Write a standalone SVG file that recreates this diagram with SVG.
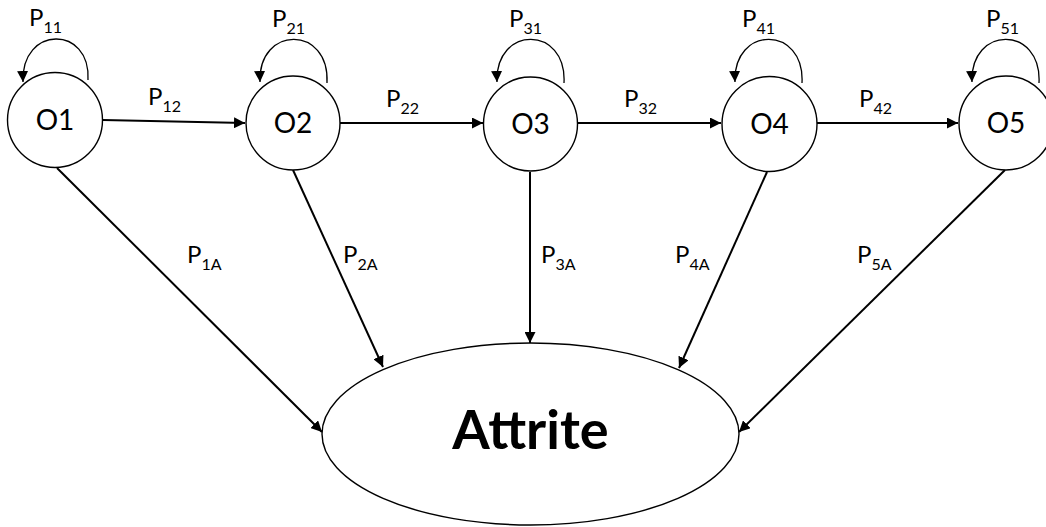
<svg xmlns="http://www.w3.org/2000/svg" width="1046" height="527" viewBox="0 0 1046 527">
<style>
.node{fill:#fff;stroke:#000;stroke-width:1.4}
.lbl{font-family:Lato,"Open Sans",sans-serif;font-size:28px;fill:#000;text-anchor:middle}
.p{font-family:Lato,"Open Sans",sans-serif;font-size:24px;fill:#000}
.sub{font-size:16px}
.edge{fill:none;stroke:#000;stroke-width:2}
.loop{fill:none;stroke:#000;stroke-width:1.3}
.big{font-family:Lato,"Open Sans",sans-serif;font-size:54px;font-weight:bold;fill:#000;text-anchor:middle}
</style>
<defs>
<marker id="ah" viewBox="0 0 10 10" refX="10" refY="5" markerWidth="5.5" markerHeight="5.5" orient="auto" markerUnits="strokeWidth"><path d="M0,0 L10,5 L0,10 z" fill="#000"/></marker>
<marker id="ahs" viewBox="0 0 10 10" refX="10" refY="5" markerWidth="8.5" markerHeight="8.5" orient="auto" markerUnits="strokeWidth"><path d="M0,0 L10,5 L0,10 z" fill="#000"/></marker>
</defs>
<g id="connectors">
<path class="edge" d="M103,120 L245,123" marker-end="url(#ah)"/>
<path class="edge" d="M340,123 L483,123" marker-end="url(#ah)"/>
<path class="edge" d="M578,123 L721,123" marker-end="url(#ah)"/>
<path class="edge" d="M817,123 L958,123" marker-end="url(#ah)"/>
<path class="edge" d="M57,168 L322,432" marker-end="url(#ah)"/>
<path class="edge" d="M293,170 L383,367" marker-end="url(#ah)"/>
<path class="edge" d="M530,172 L530,343" marker-end="url(#ah)"/>
<path class="edge" d="M767,172 L679,368" marker-end="url(#ah)"/>
<path class="edge" d="M1005,170 L739,432" marker-end="url(#ah)"/>
<path class="loop" d="M88,80 C91,25 21,25 23,82" marker-end="url(#ahs)"/>
<path class="loop" d="M327,83 C330,25 258,25 260,82" marker-end="url(#ahs)"/>
<path class="loop" d="M564,83 C567,25 495,25 497,82" marker-end="url(#ahs)"/>
<path class="loop" d="M802,83 C805,25 733,25 735,82" marker-end="url(#ahs)"/>
<path class="loop" d="M1039,83 C1042,25 970,25 972,82" marker-end="url(#ahs)"/>
</g>
<g id="labels">
<text class="p" x="29" y="26">P<tspan class="sub" dy="7">11</tspan></text>
<text class="p" x="148" y="105">P<tspan class="sub" dy="7">12</tspan></text>
<text class="p" x="272" y="27">P<tspan class="sub" dy="7">21</tspan></text>
<text class="p" x="386" y="107">P<tspan class="sub" dy="7">22</tspan></text>
<text class="p" x="509" y="27">P<tspan class="sub" dy="7">31</tspan></text>
<text class="p" x="624" y="107">P<tspan class="sub" dy="7">32</tspan></text>
<text class="p" x="742" y="27">P<tspan class="sub" dy="7">41</tspan></text>
<text class="p" x="859" y="107">P<tspan class="sub" dy="7">42</tspan></text>
<text class="p" x="986" y="27">P<tspan class="sub" dy="7">51</tspan></text>
<text class="p" x="187" y="263">P<tspan class="sub" dy="7">1A</tspan></text>
<text class="p" x="343" y="263">P<tspan class="sub" dy="7">2A</tspan></text>
<text class="p" x="541" y="263">P<tspan class="sub" dy="7">3A</tspan></text>
<text class="p" x="675" y="263">P<tspan class="sub" dy="7">4A</tspan></text>
<text class="p" x="857" y="263">P<tspan class="sub" dy="7">5A</tspan></text>
</g>
<g id="O1"><circle class="node" cx="55" cy="120" r="47.5"/><text class="lbl" x="55" y="130">O1</text></g>
<g id="O2"><circle class="node" cx="293" cy="123" r="47"/><text class="lbl" x="293" y="133">O2</text></g>
<g id="O3"><circle class="node" cx="530.5" cy="124" r="47"/><text class="lbl" x="530.5" y="134">O3</text></g>
<g id="O4"><circle class="node" cx="769.5" cy="124" r="47.5"/><text class="lbl" x="769.5" y="134">O4</text></g>
<g id="O5"><circle class="node" cx="1006" cy="123" r="47"/><text class="lbl" x="1006" y="133">O5</text></g>
<g id="Attrite"><ellipse class="node" cx="530.5" cy="434" rx="208.5" ry="91"/><text class="big" x="530.5" y="449">Attrite</text></g>
</svg>
